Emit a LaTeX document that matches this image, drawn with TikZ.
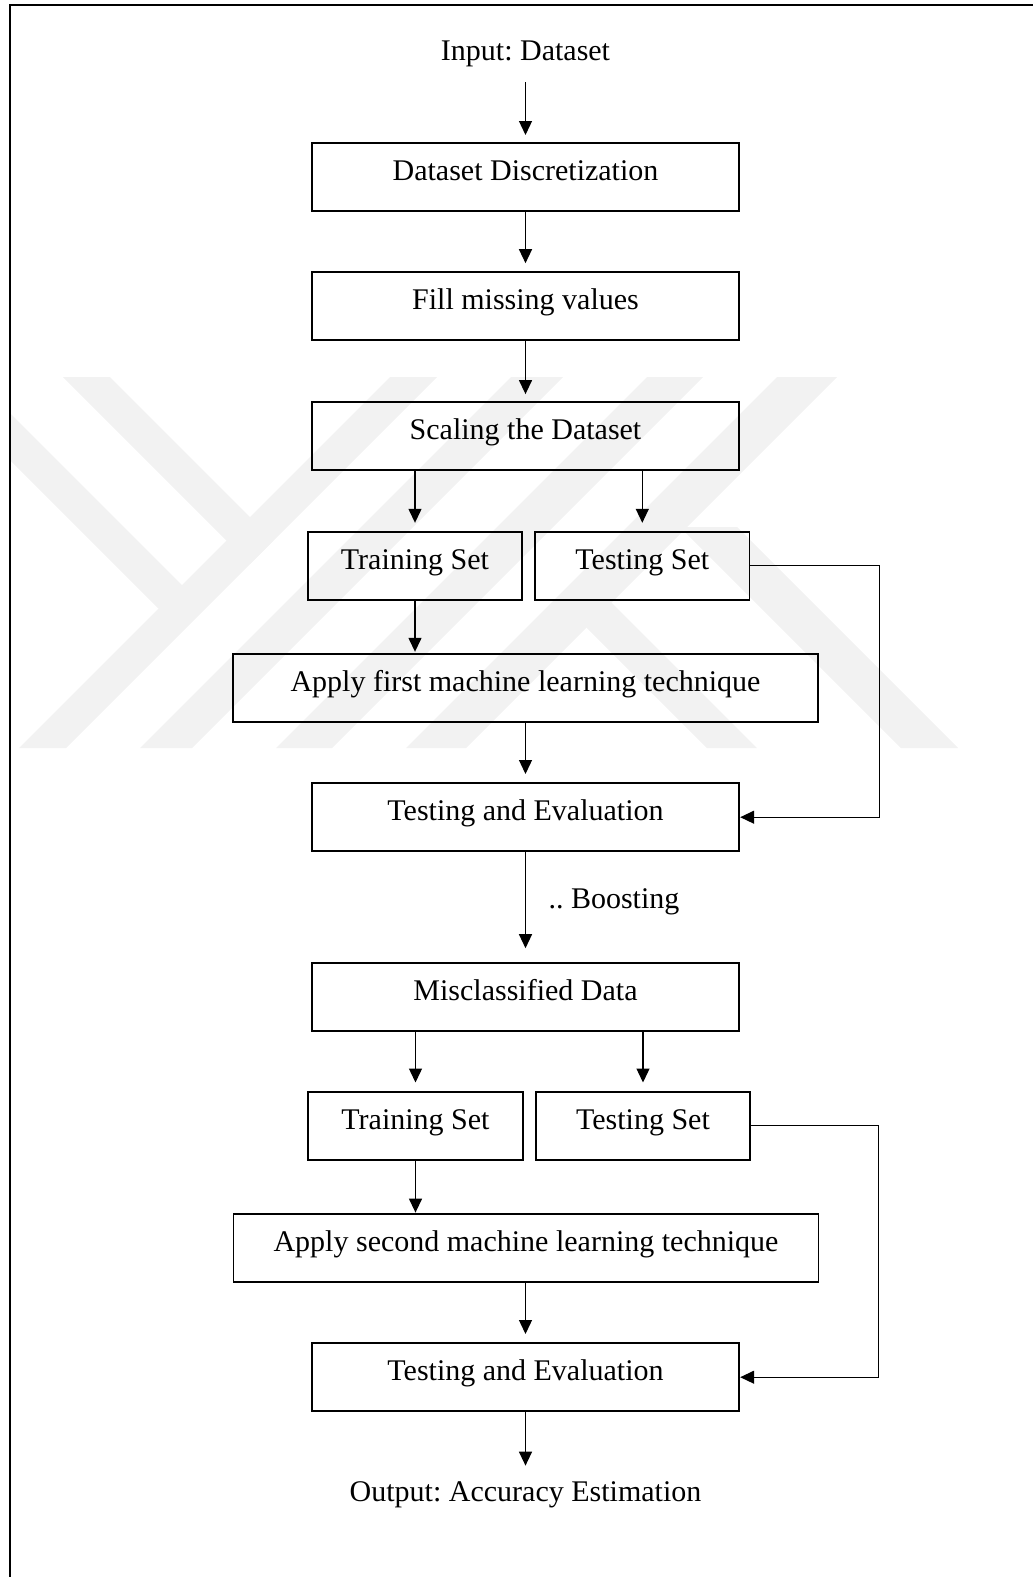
\documentclass[tikz,border=0pt]{standalone}
\usepackage{fontspec}
\setmainfont{Liberation Serif}
\usetikzlibrary{arrows.meta}
\frenchspacing
\begin{document}
\begin{tikzpicture}[x=1pt,y=-1pt,
  every node/.style={font=\fontsize{30}{36}\selectfont},
  box/.style={draw, line width=1.8pt, inner sep=0pt, text height=37.5pt, text depth=30.5pt, minimum height=68pt},
  widebox/.style={box, minimum width=427.6pt},
  halfbox/.style={box, minimum width=214.3pt},
  longbox/.style={box, minimum width=585pt},
  plain/.style={inner sep=0pt},
  arr/.style={line width=1.3pt, -{Triangle[length=14pt,width=13pt]}},
  wm/.style={fill=black!5, draw=none},
]
\useasboundingbox (0,0) rectangle (1033,1577);
% watermark
\begin{scope}
\clip (11,377) rectangle (1033,748);
\fill[wm] (63,377) -- (110,377) -- (273.5,540.5) -- (250,564) -- cycle;
\fill[wm] (390,377) -- (437,377) -- (66,748) -- (19,748) -- cycle;
\fill[wm] (0,403) -- (0,450) -- (158.5,608.5) -- (205.5,608.5) -- cycle;
\fill[wm] (511,377) -- (563,377) -- (192,748) -- (140,748) -- cycle;
\fill[wm] (647,377) -- (703,377) -- (332,748) -- (276,748) -- cycle;
\fill[wm] (777,377) -- (837,377) -- (466,748) -- (406,748) -- cycle;
\fill[wm] (560,601) -- (610,601) -- (757,748) -- (707,748) -- cycle;
\fill[wm] (680,527) -- (737,527) -- (958,748) -- (901,748) -- cycle;
\end{scope}
% frame
\draw[line width=2pt] (10,1577) -- (10,5) -- (1033,5);
% nodes
\node[plain, anchor=base] (in) at (525.5,60) {Input: Dataset};
\node[widebox] (b1) at (525.5,177.2) {Dataset Discretization};
\node[widebox] (b2) at (525.5,305.8) {Fill missing values};
\node[widebox] (b3) at (525.5,436.3) {Scaling the Dataset};
\node[halfbox] (tr1) at (415,565.7) {Training Set};
\node[halfbox] (te1) at (642.3,565.7) {Testing Set};
\node[longbox] (ap1) at (525.5,688) {Apply first machine learning technique};
\node[widebox] (ev1) at (525.5,817.2) {Testing and Evaluation};
\node[plain, anchor=base west] (boost) at (548.3,908.3) {.. Boosting};
\node[widebox] (mc) at (525.5,996.8) {Misclassified Data};
\node[halfbox] (tr2) at (415.5,1125.8) {Training Set};
\node[halfbox] (te2) at (643,1125.8) {Testing Set};
\node[longbox] (ap2) at (526,1248.2) {Apply second machine learning technique};
\node[widebox] (ev2) at (525.5,1377.2) {Testing and Evaluation};
\node[plain, anchor=base] (out) at (525.5,1501.7) {Output: Accuracy Estimation};
% connectors
\draw[arr, shorten <=15.5pt, shorten >=7.3pt] (in.south) -- (b1.north);
\draw[arr, shorten >=7.7pt] (b1.south) -- (b2.north);
\draw[arr, shorten >=7.3pt] (b2.south) -- (b3.north);
\draw[arr, shorten >=8pt] (b3.south -| tr1.north) -- (tr1.north);
\draw[arr, shorten >=8pt] (b3.south -| te1.north) -- (te1.north);
\draw[arr, shorten >=1.3pt] (tr1.south) -- (tr1.south |- ap1.north);
\draw[arr, shorten >=8.3pt] (ap1.south -| ev1.north) -- (ev1.north);
\draw[arr] (te1.east) -- ++(129.3,0) |- (ev1.east);
\draw[arr, shorten >=13.7pt] (ev1.south) -- (mc.north);
\draw[arr, shorten >=8.4pt] (mc.south -| tr2.north) -- (tr2.north);
\draw[arr, shorten >=8.4pt] (mc.south -| te2.north) -- (te2.north);
\draw[arr, shorten >=0.7pt] (tr2.south) -- (tr2.south |- ap2.north);
\draw[arr, shorten >=8.3pt] (ap2.south -| ev2.north) -- (ev2.north);
\draw[arr] (te2.east) -- ++(127.2,0) |- (ev2.east);
\draw[arr, shorten >=16pt] (ev2.south) -- (out.north);
\end{tikzpicture}
\end{document}
